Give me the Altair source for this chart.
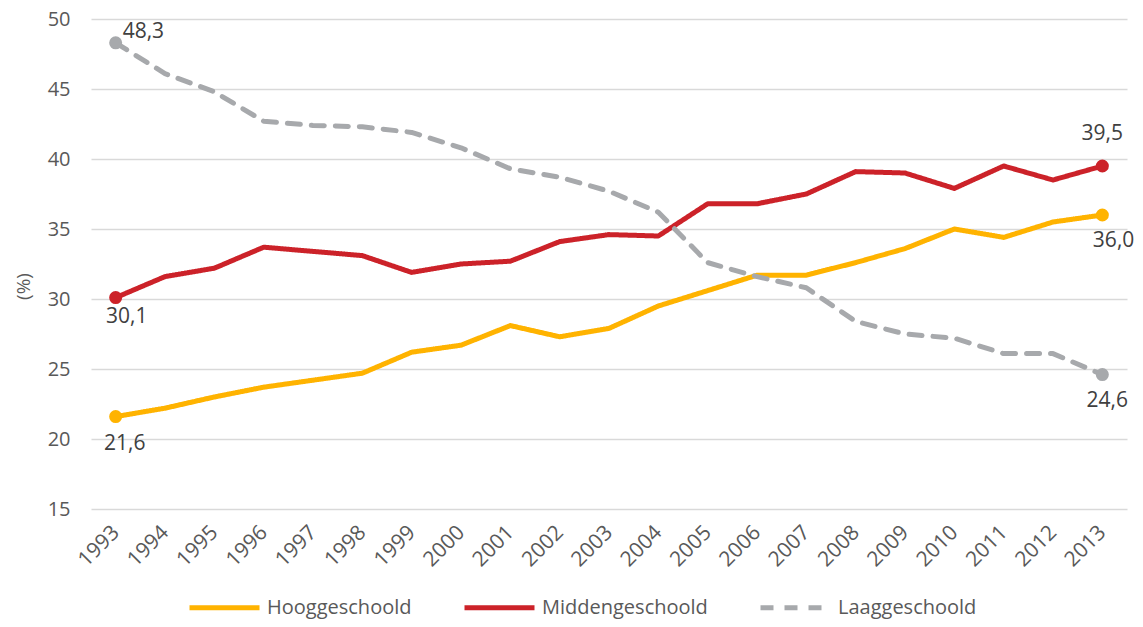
import altair as alt
import pandas as pd

years = [str(y) for y in range(1993, 2014)]
series_names = ["Hooggeschoold", "Middengeschoold", "Laaggeschoold"]
hoog = [21.6, 22.2, 23.0, 23.7, 24.2, 24.7, 26.2, 26.7, 28.1, 27.3, 27.9,
        29.5, 30.6, 31.7, 31.7, 32.6, 33.6, 35.0, 34.4, 35.5, 36.0]
midden = [30.1, 31.6, 32.2, 33.7, 33.4, 33.1, 31.9, 32.5, 32.7, 34.1, 34.6,
          34.5, 36.8, 36.8, 37.5, 39.1, 39.0, 37.9, 39.5, 38.5, 39.5]
laag = [48.3, 46.1, 44.8, 42.7, 42.4, 42.3, 41.9, 40.8, 39.3, 38.7, 37.7,
        36.2, 32.6, 31.6, 30.8, 28.4, 27.5, 27.2, 26.1, 26.1, 24.6]
y_ticks = [15, 20, 25, 30, 35, 40, 45, 50]

rows = []
for name, vals in zip(series_names, [hoog, midden, laag]):
    for yr, v in zip(years, vals):
        rows.append({"year": yr, "series": name, "value": v})
df = pd.DataFrame(rows)

FONT = "Open Sans"
colors = ["#FFB300", "#CC2229", "#A7A9AC"]


def make_legend():
    return alt.Legend(
        title=None, orient="none", direction="horizontal",
        legendX=96, legendY=551,
        symbolType="stroke", symbolSize=4900, symbolStrokeWidth=5,
        labelFontSize=20, labelFont=FONT, labelColor="#595959",
        labelOffset=5, columnPadding=42, labelLimit=400,
    )


color_enc = alt.Color(
    "series:N",
    scale=alt.Scale(domain=series_names, range=colors),
    legend=make_legend(),
)
dash_enc = alt.StrokeDash(
    "series:N",
    scale=alt.Scale(domain=series_names, range=[[1, 0], [1, 0], [13, 11]]),
    legend=make_legend(),
)

x_enc = alt.X(
    "year:O", sort=years, title=None,
    axis=alt.Axis(labelAngle=-45, labelAlign="right", labelBaseline="middle",
                  labelFontSize=21, labelFont=FONT, labelColor="#595959",
                  labelPadding=20, ticks=False, domain=False, grid=False),
)
y_enc = alt.Y(
    "value:Q", scale=alt.Scale(domain=[15, 50], nice=False, zero=False),
    title="(%)",
    axis=alt.Axis(values=y_ticks, labelFontSize=20, labelFont=FONT,
                  labelColor="#595959", labelPadding=21, ticks=False,
                  domain=False, gridColor="#D9D9D9", gridWidth=1.5,
                  titleFont=FONT, titleFontSize=19, titleColor="#595959",
                  titleFontWeight="normal", titleAngle=-90,
                  titleX=-68, titleY=267, titleAlign="center",
                  titleBaseline="middle"),
)

base = alt.Chart(df)

lines = base.mark_line(strokeWidth=5, strokeCap="round", strokeJoin="round").encode(
    x=x_enc, y=y_enc, color=color_enc, strokeDash=dash_enc,
    order=alt.Order("year:O"),
)

ends = base.transform_filter(
    alt.FieldOneOfPredicate(field="year", oneOf=[years[0], years[-1]])
).mark_circle(size=170, opacity=1).encode(
    x=alt.X("year:O", sort=years),
    y=alt.Y("value:Q"),
    color=alt.Color("series:N", scale=alt.Scale(domain=series_names, range=colors), legend=None),
)

label_specs = [
    ("Laaggeschoold", years[0], 7, -11, "left"),
    ("Middengeschoold", years[0], 11, 19, "center"),
    ("Hooggeschoold", years[0], 9, 27, "center"),
    ("Middengeschoold", years[-1], 0, -32, "center"),
    ("Hooggeschoold", years[-1], 32, 26, "right"),
    ("Laaggeschoold", years[-1], 5, 26, "center"),
]
labels = []
for s, yr, dx, dy, al in label_specs:
    labels.append(
        base.transform_filter(
            (alt.datum.series == s) & (alt.datum.year == yr)
        ).transform_calculate(
            label="replace(format(datum.value, '.1f'), '.', ',')"
        ).mark_text(dx=dx, dy=dy, align=al, baseline="middle",
                    fontSize=21, font=FONT, color="#404040").encode(
            x=alt.X("year:O", sort=years), y=alt.Y("value:Q"), text="label:N"
        )
    )

chart = alt.layer(lines, ends, *labels).properties(
    width=1036, height=490,
    padding={"left": 83, "top": 11, "right": 8, "bottom": 110},
    autosize=alt.AutoSizeParams(type="none"),
).configure_view(stroke=None)

chart.save("out.html", embed_options={"renderer": "svg", "actions": False})
